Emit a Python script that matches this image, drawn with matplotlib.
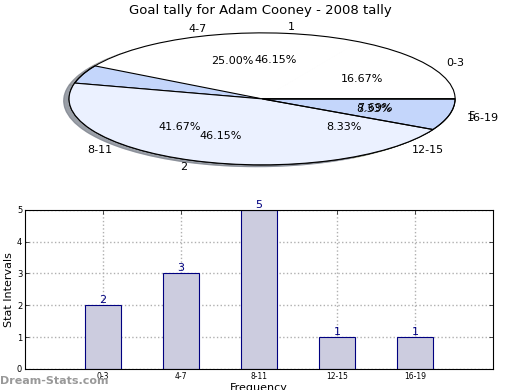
import matplotlib
matplotlib.use("Agg")
import matplotlib.pyplot as plt

title = "Goal tally for Adam Cooney - 2008 tally"
intervals = ["0-3", "4-7", "8-11", "12-15", "16-19"]
counts = [2, 3, 5, 1, 1]
tally_labels = ["1", "2", "5"]
tally_values = [6, 6, 1]

fig = plt.figure(figsize=(5.2, 3.9), dpi=100)

# ---- pie panel ----
axp = fig.add_axes([0.040, 0.535, 0.928, 0.423])
c_white = "#ffffff"
c_mid = "#c4d6fb"
c_light = "#ebf1ff"
shadow_opts = {"shade": 0.45}
w1, t1, a1 = axp.pie(counts, labels=intervals, autopct="%1.2f%%", shadow=shadow_opts,
                     startangle=0, colors=[c_white, c_white, c_mid, "#b8d040", c_mid],
                     wedgeprops=dict(edgecolor="black", linewidth=0.8),
                     textprops=dict(fontsize=8))
w2, t2, a2 = axp.pie(tally_values, labels=tally_labels, autopct="%1.2f%%", shadow=shadow_opts,
                     startangle=0, colors=[c_white, c_light, c_mid],
                     wedgeprops=dict(edgecolor="black", linewidth=0.8),
                     textprops=dict(fontsize=8))
w1[0].set_edgecolor("white")
w1[1].set_edgecolor("white")
w2[0].set_facecolor("none")
w2[2].set_facecolor("none")
axp.set_aspect("auto")
axp.set_xlim(-1.25, 1.25)
axp.set_ylim(-1.25, 1.25)
fig.text(0.5, 0.973, title, ha="center", va="center", fontsize=9.5)

# ---- bar panel ----
axb = fig.add_axes([0.048, 0.054, 0.9, 0.408])
xpos = list(range(1, len(intervals) + 1))
bars = axb.bar(xpos, counts, width=0.46, color="#ccccdf", edgecolor="#000080",
               linewidth=0.8, zorder=2)
for x, v in zip(xpos, counts):
    axb.text(x, v, str(v), ha="center", va="bottom", color="#000080", fontsize=8)
axb.set_xlim(0, 6)
axb.set_ylim(0, 5)
axb.set_xticks(xpos)
axb.set_xticklabels(intervals, fontsize=5.5)
axb.set_yticks(range(0, 6))
axb.tick_params(axis="y", labelsize=6)
axb.tick_params(direction="in", top=True, right=True, length=3, width=0.5, pad=2)
axb.grid(True, linestyle=":", color="#b0b0b0", linewidth=1.0, zorder=0)
axb.set_axisbelow(True)
axb.set_ylabel("Stat Intervals", fontsize=8, labelpad=2)
axb.set_xlabel("Frequency", fontsize=8, labelpad=2)
for s in axb.spines.values():
    s.set_linewidth(0.8)

fig.text(0.0, 0.024, "Dream-Stats.com", ha="left", va="center", fontsize=8,
         color="#999999", fontweight="bold")

fig.savefig("out.png", dpi=100)
